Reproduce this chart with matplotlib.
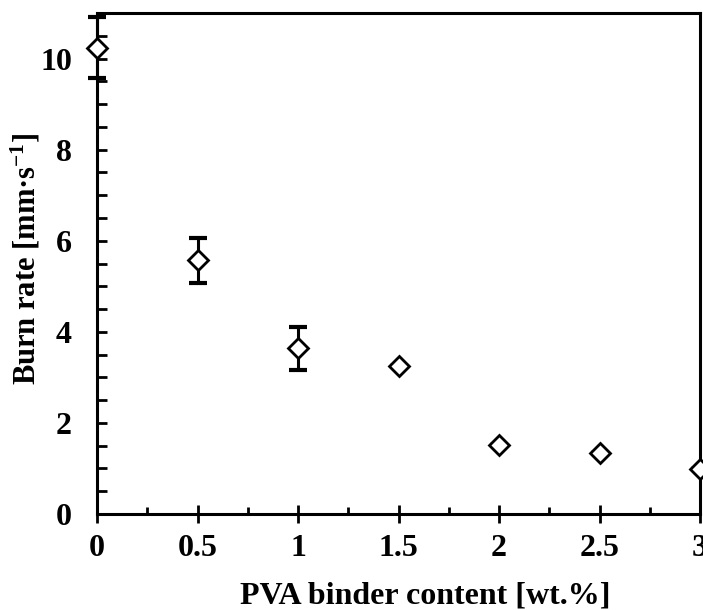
import matplotlib
matplotlib.use("Agg")
import matplotlib.pyplot as plt
from matplotlib.ticker import MultipleLocator

pva = [0, 0.5, 1.0, 1.5, 2.0, 2.5, 3.0]
burn_rate = [10.24, 5.57, 3.64, 3.24, 1.52, 1.35, 0.98]
burn_err = [0.67, 0.49, 0.47, 0, 0, 0, 0]
x_ticks = [0, 0.5, 1, 1.5, 2, 2.5, 3]
x_ticklabels = ['0', '0.5', '1', '1.5', '2', '2.5', '3']
y_ticks = [0, 2, 4, 6, 8, 10]
y_ticklabels = ['0', '2', '4', '6', '8', '10']

plt.rcParams['font.family'] = ['Liberation Serif', 'DejaVu Serif']
plt.rcParams['font.weight'] = 'bold'
plt.rcParams['mathtext.fontset'] = 'custom'
plt.rcParams['mathtext.rm'] = 'Liberation Serif:bold'
plt.rcParams['mathtext.bf'] = 'Liberation Serif:bold'
plt.rcParams['mathtext.it'] = 'Liberation Serif:bold'

fig = plt.figure(figsize=(7.03, 6.10), dpi=100)
ax = fig.add_axes([97/703, 1-514/610, (700-97)/703, (514-13)/610])

ax.errorbar(pva, burn_rate, yerr=burn_err, fmt='none', ecolor='black',
            elinewidth=2.2, capsize=6.5, capthick=3, clip_on=False, zorder=3)
ax.plot(pva, burn_rate, linestyle='none', marker='D', markersize=10,
        markerfacecolor='white', markeredgecolor='black', markeredgewidth=2,
        clip_on=False, zorder=4)

ax.set_xlim(0, 3)
ax.set_ylim(0, 11)
ax.xaxis.set_minor_locator(MultipleLocator(0.25))
ax.yaxis.set_minor_locator(MultipleLocator(0.5))
ax.set_xticks(x_ticks)
ax.set_xticklabels(x_ticklabels)
ax.set_yticks(y_ticks)
ax.set_yticklabels(y_ticklabels)

ax.tick_params(axis='x', which='major', direction='inout', length=13, width=2,
               labelsize=23, pad=8)
ax.tick_params(axis='x', which='minor', direction='in', length=5, width=2)
ax.tick_params(axis='y', which='both', direction='in', length=7, width=2,
               labelsize=23, pad=18)
for side in ['left', 'bottom', 'right', 'top']:
    ax.spines[side].set_linewidth(2.2)

ax.set_xlabel('PVA binder content [wt.%]', fontsize=23, fontweight='bold')
ax.xaxis.label.set_va('baseline')
ax.xaxis.set_label_coords((425-97)/603, (514-603)/501)

ax.set_ylabel('Burn rate [mm·s$^{-1}$]', fontsize=22, fontweight='bold')
ax.yaxis.label.set_va('baseline')
ax.yaxis.set_label_coords((36-97)/603, (514-259)/501)

fig.savefig('out.png', dpi=100)
